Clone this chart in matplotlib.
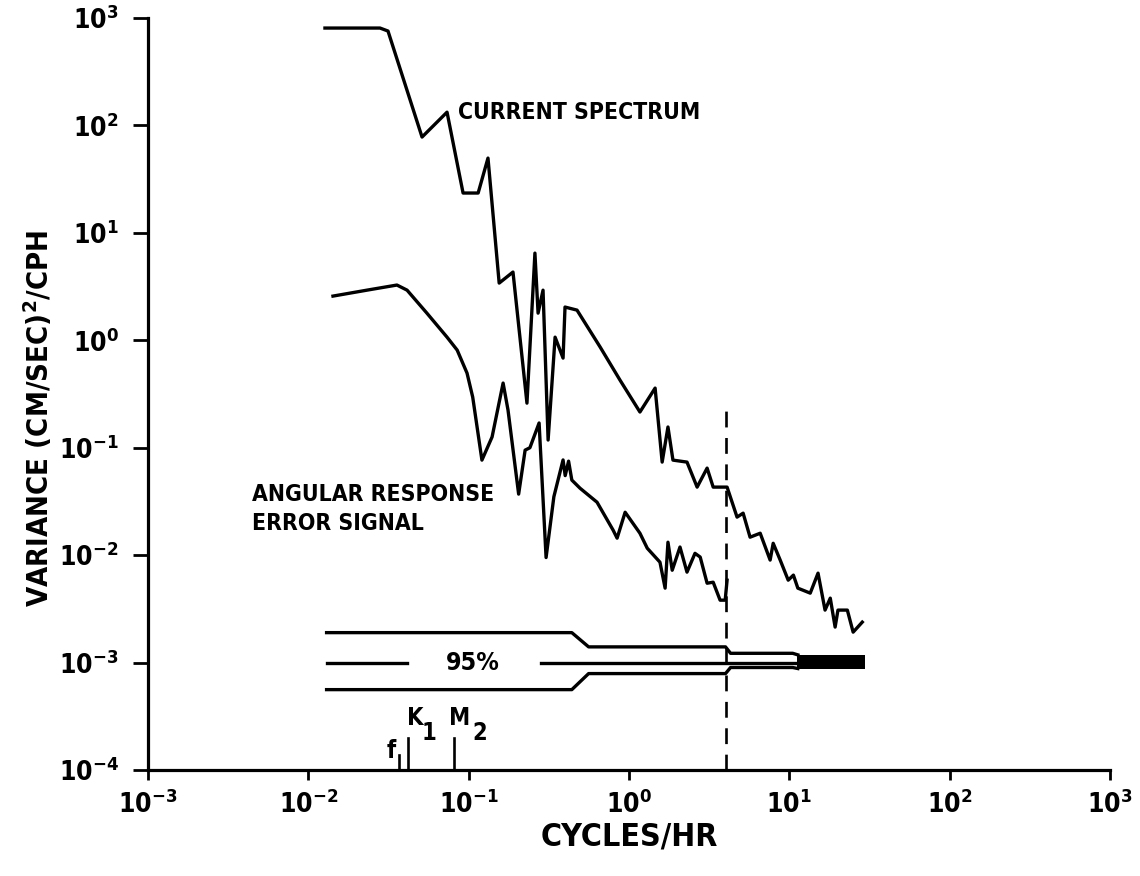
import numpy as np
import matplotlib
matplotlib.use('Agg')
import matplotlib.pyplot as plt
import matplotlib.font_manager as fm

# pick a narrow bold face if one is installed, otherwise plain DejaVu
narrow = [f for f in fm.fontManager.ttflist
          if f.weight in (700, 'bold') and f.style == 'normal'
          and ('Narrow' in f.fname or 'Condensed' in f.fname)]
if narrow:
    fam = narrow[0].name
    plt.rcParams['font.stretch'] = narrow[0].stretch
else:
    fam = 'DejaVu Sans'
    plt.rcParams['font.stretch'] = 'condensed'
plt.rcParams['font.family'] = [fam, 'DejaVu Sans']
plt.rcParams['font.weight'] = 'bold'
plt.rcParams['mathtext.fontset'] = 'custom'
plt.rcParams['mathtext.rm'] = f'{fam}:bold'
plt.rcParams['mathtext.default'] = 'rm'

# ── current spectrum (cycles/hr, variance) ──
cur_freq = [0.0127, 0.028, 0.0314, 0.0512, 0.0733, 0.0923, 0.1146, 0.132, 0.155, 0.189,
            0.231, 0.259, 0.271, 0.291, 0.313, 0.346, 0.388, 0.399, 0.474, 0.661,
            0.879, 1.17, 1.455, 1.61, 1.75, 1.88, 2.30, 2.66, 3.07, 3.35,
            4.09, 4.72, 5.15, 5.69, 6.58, 7.59, 7.93, 8.77, 9.84, 10.6,
            11.3, 13.5, 15.1, 16.7, 18.0, 19.3, 20.1, 23.0, 25.0, 28.5]
cur_var = [807, 807, 757, 78, 133, 23.5, 23.5, 49.7, 3.41, 4.32,
           0.26, 6.48, 1.79, 2.93, 0.118, 1.07, 0.683, 2.04, 1.91, 0.865,
           0.426, 0.215, 0.359, 0.0735, 0.156, 0.0767, 0.0735, 0.043, 0.0646, 0.043,
           0.043, 0.0226, 0.0246, 0.0147, 0.016, 0.009, 0.0129, 0.009, 0.00585, 0.00652,
           0.00493, 0.00443, 0.0068, 0.00308, 0.00398, 0.00214, 0.00308, 0.00308, 0.00192, 0.00238]

# ── angular response error signal ──
err_freq = [0.01425, 0.0232, 0.0357, 0.0413, 0.0549, 0.0733, 0.0848, 0.0977, 0.106, 0.121,
            0.140, 0.164, 0.176, 0.205, 0.225, 0.241, 0.275, 0.304, 0.34, 0.388,
            0.40, 0.42, 0.44, 0.495, 0.632, 0.796, 0.843, 0.946, 1.17, 1.30,
            1.56, 1.68, 1.75, 1.86, 2.08, 2.30, 2.58, 2.78, 3.07, 3.35,
            3.70, 3.98, 4.09]
err_var = [2.58, 2.93, 3.27, 2.93, 1.79, 1.07, 0.811, 0.495, 0.296, 0.0767,
           0.126, 0.40, 0.224, 0.037, 0.095, 0.10, 0.17, 0.0095, 0.035, 0.077,
           0.055, 0.075, 0.05, 0.042, 0.0311, 0.0171, 0.0144, 0.0251, 0.016, 0.0116,
           0.0086, 0.00493, 0.0132, 0.00724, 0.0119, 0.00695, 0.0104, 0.0096, 0.00548, 0.0056,
           0.00381, 0.00381, 0.00585]

# ── 95% confidence limits ──
band_freq = [0.013, 0.44, 0.56, 4.0, 4.3, 10.5, 11.3]
band_hi = [1.9e-3, 1.9e-3, 1.4e-3, 1.4e-3, 1.22e-3, 1.22e-3, 1.18e-3]
band_lo = [5.6e-4, 5.6e-4, 7.9e-4, 7.9e-4, 9.0e-4, 9.0e-4, 8.8e-4]
band_mid = 1.0e-3
bar_freq = [11.2, 29.7]
bar_hi = 1.18e-3
bar_lo = 8.7e-4

# ── inertial / tidal markers ──
tide_freq = [0.037, 0.0418, 0.0805]
tide_top = [1.37e-4, 2.0e-4, 2.0e-4]

cutoff = 4.04

fig = plt.figure(figsize=(11.4, 8.76), dpi=100)
ax = fig.add_axes([0.1298, 0.121, 0.8439, 0.8584])

lw = 2.4
ax.plot(cur_freq, cur_var, color='black', lw=lw)
ax.plot(err_freq, err_var, color='black', lw=lw)

ax.plot(band_freq, band_hi, color='black', lw=lw)
ax.plot(band_freq, band_lo, color='black', lw=lw)
ax.plot([band_freq[0], 0.0413], [band_mid, band_mid], color='black', lw=lw)
ax.plot([0.283, bar_freq[0]], [band_mid, band_mid], color='black', lw=lw)
ax.fill_between(bar_freq, bar_lo, bar_hi, color='black', lw=0)
ax.text(0.106, band_mid, '95%', fontsize=18, ha='center', va='center')

ax.plot([cutoff, cutoff], [1e-4, 0.224], color='black', lw=1.9, dashes=(6, 4))

for f, top in zip(tide_freq, tide_top):
    ax.plot([f, f], [1e-4, top], color='black', lw=1.9)
ax.text(0.0330, 1.5e-4, 'f', fontsize=17, ha='center', va='center')
ax.text(0.0462, 3.05e-4, 'K', fontsize=17, ha='center', va='center')
ax.text(0.0565, 2.2e-4, '1', fontsize=17, ha='center', va='center')
ax.text(0.0880, 3.05e-4, 'M', fontsize=17, ha='center', va='center')
ax.text(0.1170, 2.2e-4, '2', fontsize=17, ha='center', va='center')

ax.text(0.0859, 133, 'CURRENT SPECTRUM', fontsize=16.5, ha='left', va='center')
ax.text(0.00446, 0.027, 'ANGULAR RESPONSE\nERROR SIGNAL', fontsize=16.5,
        ha='left', va='center', linespacing=1.35)

ax.set_xscale('log')
ax.set_yscale('log')
ax.set_xlim(1e-3, 1e3)
ax.set_ylim(1e-4, 1e3)

ax.set_xticks([10.0 ** e for e in range(-3, 4)])
ax.set_yticks([10.0 ** e for e in range(-4, 4)])
ax.set_xticklabels([f'$10^{{{e}}}$' for e in range(-3, 4)], fontsize=19)
ax.set_yticklabels([f'$10^{{{e}}}$' for e in range(-4, 4)], fontsize=19)
ax.minorticks_off()
ax.tick_params(axis='y', direction='out', length=11, width=2, pad=10)
ax.tick_params(axis='x', direction='out', length=7, width=2, pad=8)

for s in ['top', 'right']:
    ax.spines[s].set_visible(False)
for s in ['left', 'bottom']:
    ax.spines[s].set_linewidth(2.3)

ax.set_xlabel('CYCLES/HR', fontsize=23, fontweight='bold')
ax.set_ylabel('VARIANCE (CM/SEC)$^2$/CPH', fontsize=21, fontweight='bold')
ax.xaxis.set_label_coords(0.5, -0.068)
ax.yaxis.set_label_coords(-0.097, 0.468)

fig.savefig('out.png', dpi=100, facecolor='white')
